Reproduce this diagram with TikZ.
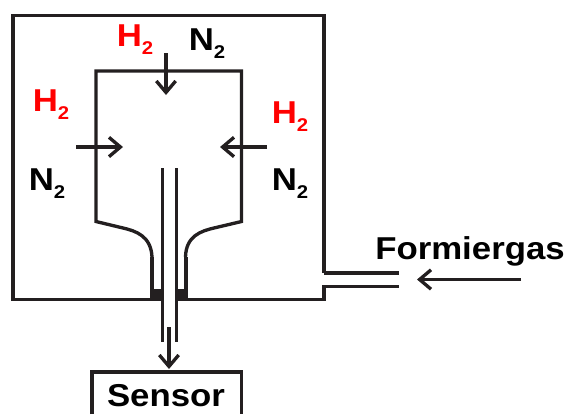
\documentclass[tikz,border=0pt]{standalone}
\usepackage{fontspec}
\setmainfont[FakeStretch=1.1]{Liberation Sans}
\usetikzlibrary{arrows.meta}
\definecolor{linecol}{HTML}{231F20}
\newcommand{\gassub}[1]{\raisebox{-4.5pt}{\fontsize{10.5}{10.5}\selectfont #1}}
\tikzset{
	wall/.style={line width=1.9pt, color=linecol},
	flow/.style={line width=1.9pt, color=linecol, -{Straight Barb[length=6.5pt,width=11pt,line width=1.9pt]}},
	label/.style={font=\fontsize{18}{18}\selectfont\bfseries, inner sep=0pt, text=black},
	hydrogen/.style={label, text=red},
}
\begin{document}
\begin{tikzpicture}[x=0.02cm,y=-0.02cm]
	\useasboundingbox (0,0) rectangle (565,414);
	\draw [wall] (324,273)--(324,15.5)--(13,15.5)--(13,299.5)--(150,299.5);
	\draw [wall] (188,299.5)--(324,299.5)--(324,286.5)--(399,286.5);
	\draw [wall] (324,273)--(399,273);
	\draw [wall] (152,257) .. controls (151,236) and (136,231) .. (123,228)--(96,221.5)--(96,71)--(241.5,71)--(241.5,221.5)--(214,228) .. controls (201,231) and (186,236) .. (185.5,257);
	\fill [linecol] (150,257) rectangle (154,290);
	\fill [linecol] (184,257) rectangle (188,290);
	\fill [linecol] (150,289) rectangle (162,300.5);
	\fill [linecol] (176,289) rectangle (188,300.5);
	\draw [wall] (162.5,168)--(162.5,341.5);
	\draw [wall] (176.5,168)--(176.5,341.5);
	\draw [wall] (92,414)--(92,372)--(241.5,372)--(241.5,414);
	\coordinate (topstart) at (166,53);
	\coordinate (topend) at (166,95);
	\coordinate (leftstart) at (76,147);
	\coordinate (leftend) at (123,147);
	\coordinate (rightstart) at (267,147);
	\coordinate (rightend) at (220,147);
	\coordinate (gasstart) at (521,279.5);
	\coordinate (gasend) at (417,279.5);
	\coordinate (outstart) at (169,327);
	\coordinate (outend) at (169,369);
	\draw [flow] (topstart)--(topend);
	\draw [flow] (leftstart)--(leftend);
	\draw [flow] (rightstart)--(rightend);
	\draw [flow] (gasstart)--(gasend);
	\draw [flow] (outstart)--(outend);
	\node [hydrogen] (hydrogentop) at (135,40) {H\gassub{2}};
	\node [label] (nitrogentop) at (207,44) {N\gassub{2}};
	\node [hydrogen] (hydrogenleft) at (51,105) {H\gassub{2}};
	\node [label] (nitrogenleft) at (47,184) {N\gassub{2}};
	\node [hydrogen] (hydrogenright) at (290,117) {H\gassub{2}};
	\node [label] (nitrogenright) at (290,184) {N\gassub{2}};
	\node [label] (formiergas) at (470,251) {Formiergas};
	\node [label] (sensor) at (166,396) {Sensor};
	\end{tikzpicture}
\end{document}
